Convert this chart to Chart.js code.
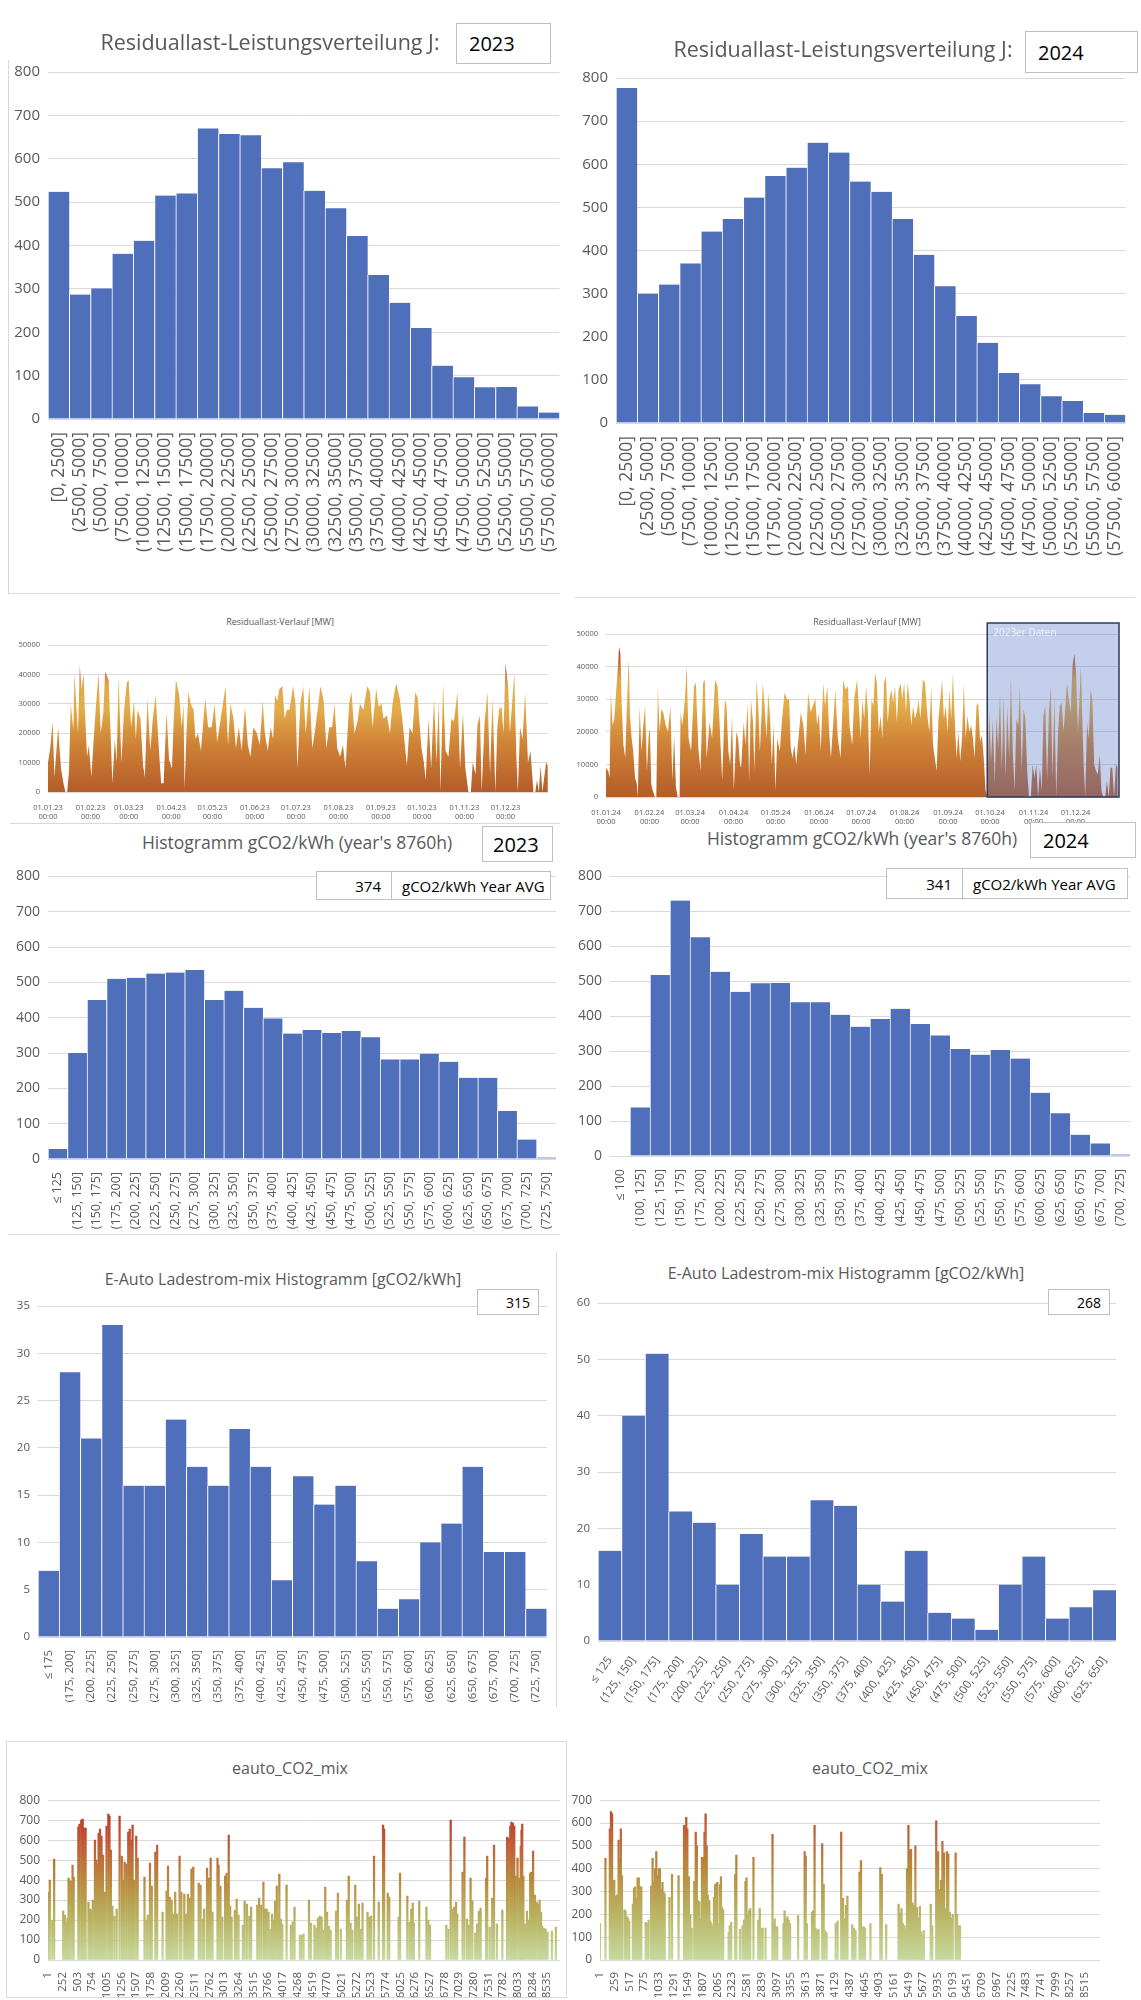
<!DOCTYPE html>
<html>
<head>
<meta charset="utf-8">
<title>Residuallast und CO2</title>
<script src="https://cdn.jsdelivr.net/npm/chart.js@4.4.1/dist/chart.umd.min.js"></script>
<style>
  body { margin: 0; background: #fff; width: 1141px; height: 2000px; position: relative; overflow: hidden;
         font-family: "Open Sans", "Liberation Sans", sans-serif; }
  canvas { position: absolute; }
  .title { position: absolute; color: #595959; white-space: nowrap; transform: translate(-50%, -50%); z-index: 4; }
  .box { position: absolute; border: 1px solid #bfbfbf; background: #fff; color: #000; box-sizing: border-box;
         display: flex; align-items: center; z-index: 5; white-space: nowrap; }
  .cell { height: 100%; display: flex; align-items: center; box-sizing: border-box; }
  .line { position: absolute; background: #d9d9d9; z-index: 1; }
</style>
</head>
<body>

<div class="title" style="left:270px;top:41px;font-size:21.5px">Residuallast-Leistungsverteilung J:</div>
<div class="box" style="left:456px;top:23px;width:95px;height:41px;font-size:20px;padding-left:12px">2023</div>
<div class="title" style="left:843px;top:48px;font-size:21.5px">Residuallast-Leistungsverteilung J:</div>
<div class="box" style="left:1025px;top:31px;width:113px;height:42px;font-size:20px;padding-left:12px">2024</div>

<div class="title" style="left:280px;top:621px;font-size:9px">Residuallast-Verlauf [MW]</div>
<div class="title" style="left:867px;top:621px;font-size:9px">Residuallast-Verlauf [MW]</div>

<div class="title" style="left:297px;top:842px;font-size:17.5px">Histogramm gCO2/kWh (year's 8760h)</div>
<div class="box" style="left:482px;top:826px;width:71px;height:36px;font-size:20px;padding-left:10px">2023</div>
<div class="box" style="left:316px;top:871px;width:235px;height:29px;font-size:15px">
  <div class="cell" style="width:75px;justify-content:flex-end;padding-right:10px;border-right:1px solid #bfbfbf">374</div>
  <div class="cell" style="padding-left:10px">gCO2/kWh Year AVG</div>
</div>
<div class="title" style="left:862px;top:838px;font-size:17.5px">Histogramm gCO2/kWh (year's 8760h)</div>
<div class="box" style="left:1030px;top:822px;width:106px;height:36px;font-size:20px;padding-left:12px">2024</div>
<div class="box" style="left:886px;top:868px;width:242px;height:31px;font-size:15px">
  <div class="cell" style="width:76px;justify-content:flex-end;padding-right:10px;border-right:1px solid #bfbfbf">341</div>
  <div class="cell" style="padding-left:10px">gCO2/kWh Year AVG</div>
</div>

<div class="title" style="left:283px;top:1279px;font-size:16px">E-Auto Ladestrom-mix Histogramm [gCO2/kWh]</div>
<div class="box" style="left:477px;top:1289px;width:62px;height:26px;font-size:14px;justify-content:flex-end;padding-right:8px">315</div>
<div class="title" style="left:846px;top:1273px;font-size:16px">E-Auto Ladestrom-mix Histogramm [gCO2/kWh]</div>
<div class="box" style="left:1048px;top:1289px;width:62px;height:26px;font-size:14px;justify-content:flex-end;padding-right:8px">268</div>

<div class="title" style="left:290px;top:1768px;font-size:16px">eauto_CO2_mix</div>
<div class="title" style="left:870px;top:1768px;font-size:16px">eauto_CO2_mix</div>

<div class="line" style="left:8px;top:60px;width:1px;height:533px"></div>
<div class="line" style="left:8px;top:593px;width:552px;height:1px"></div>
<div class="line" style="left:575px;top:597px;width:560px;height:1px"></div>
<div class="line" style="left:10px;top:823px;width:550px;height:1px"></div>
<div class="line" style="left:1050px;top:843px;width:78px;height:1px"></div>
<div class="line" style="left:8px;top:1234px;width:552px;height:1px"></div>
<div class="line" style="left:556px;top:1252px;width:1px;height:455px"></div>
<div class="line" style="left:6px;top:1741px;width:561px;height:1px"></div>
<div class="line" style="left:6px;top:1741px;width:1px;height:257px"></div>
<div class="line" style="left:566px;top:1741px;width:1px;height:257px"></div>
<div class="line" style="left:6px;top:1997px;width:561px;height:1px"></div>

<script>
// ---------- data ----------
const resBins = ["[0, 2500]", "(2500, 5000]", "(5000, 7500]", "(7500, 10000]", "(10000, 12500]", "(12500, 15000]",
  "(15000, 17500]", "(17500, 20000]", "(20000, 22500]", "(22500, 25000]", "(25000, 27500]", "(27500, 30000]",
  "(30000, 32500]", "(32500, 35000]", "(35000, 37500]", "(37500, 40000]", "(40000, 42500]", "(42500, 45000]",
  "(45000, 47500]", "(47500, 50000]", "(50000, 52500]", "(52500, 55000]", "(55000, 57500]", "(57500, 60000]"];
const res2023 = [524, 287, 301, 381, 411, 515, 520, 670, 657, 654, 578, 592, 526, 486, 422, 332, 268, 210, 123, 96, 73, 74, 29, 15];
const res2024 = [777, 300, 321, 370, 444, 473, 523, 573, 592, 650, 627, 560, 536, 473, 390, 317, 248, 186, 116, 90, 62, 51, 23, 19];

const monthDays23 = [0, 31, 59, 90, 120, 151, 181, 212, 243, 273, 304, 334];
const monthLabels23 = ["01.01.23", "01.02.23", "01.03.23", "01.04.23", "01.05.23", "01.06.23", "01.07.23", "01.08.23", "01.09.23", "01.10.23", "01.11.23", "01.12.23"];
const monthDays24 = [0, 31, 60, 91, 121, 152, 182, 213, 244, 274, 305, 335];
const monthLabels24 = ["01.01.24", "01.02.24", "01.03.24", "01.04.24", "01.05.24", "01.06.24", "01.07.24", "01.08.24", "01.09.24", "01.10.24", "01.11.24", "01.12.24"];

const v23Day = [0, 1.6, 3.4, 4.7, 7.4, 9.5, 11.3, 12.7, 14.0, 15.3, 16.6, 18.5, 19.3, 20.6, 21.9, 23.2, 24.5, 25.9, 27.2, 28.5,
  29.8, 31.7, 33.2, 35.1, 36.9, 38.5, 40.4, 41.7, 44.3, 47.0, 48.8, 50.1, 51.5, 53.6, 55.4, 57.5, 58.8, 60.7, 62.8, 64.1,
  65.4, 67.5, 69.4, 70.7, 72.6, 74.7, 76.5, 78.6, 81.3, 82.6, 84.4, 86.5, 88.4, 90.5, 91.8, 93.4, 95.8, 97.6, 98.9, 99.7,
  101.1, 102.4, 104.2, 106.3, 107.7, 109.5, 111.6, 114.8, 116.9, 119.5, 121.6, 123.5, 126.1, 129.6, 131.4, 133.2, 135.4, 137.2, 139.3, 141.4,
  143.8, 145.9, 147.8, 149.9, 152.5, 154.6, 156.7, 158.3, 160.4, 162.5, 164.4, 165.7, 167.5, 168.9, 171.0, 172.8, 174.4, 176.3, 178.9, 180.7,
  182.1, 184.2, 186.3, 188.1, 190.8, 192.9, 194.7, 198.9, 201.3, 203.2, 205.3, 207.4, 209.2, 211.1, 213.2, 215.3, 217.2, 219.8, 221.6, 223.7,
  225.9, 227.7, 230.3, 233.0, 235.1, 236.9, 239.6, 241.4, 243.5, 244.9, 247.5, 249.6, 251.5, 254.1, 256.7, 258.6, 260.7, 262.0, 263.9, 266.0,
  268.1, 269.9, 272.6, 274.4, 275.7, 277.8, 279.7, 281.8, 283.6, 285.2, 286.5, 288.4, 290.2, 292.3, 294.5, 296.3, 298.9, 300.8, 302.9, 304.7,
  306.9, 308.7, 310.0, 312.1, 313.5, 315.3, 316.6, 318.7, 320.8, 322.7, 324.5, 326.6, 328.0, 329.3, 331.1, 332.5, 334.0, 335.9, 337.2, 339.1,
  340.4, 341.9, 343.0, 344.6, 346.4, 348.3, 350.4, 352.2, 354.4, 355.7, 357.0, 358.3, 359.6, 360.9, 363.6, 364.9];
const v23MW = [10000, 15000, 24000, 5000, 22000, 8000, 3000, 0, 0, 7000, 30000, 21000, 40000, 30000, 20000, 43000, 35000, 40000, 25000, 12000,
  16000, 5000, 17000, 30000, 40000, 20000, 27000, 41000, 38000, 3000, 18000, 10000, 39000, 10000, 27000, 37000, 38000, 22000, 31000, 18000,
  28000, 25000, 9000, 5000, 32000, 14000, 25000, 33000, 12000, 3000, 3000, 27000, 11000, 8000, 25000, 38000, 33000, 22000, 30000, 1000,
  20000, 34000, 30000, 28000, 18000, 20000, 14000, 32000, 22000, 22000, 30000, 17000, 25000, 36000, 16000, 30000, 25000, 15000, 22000, 14000,
  29000, 16000, 12000, 22000, 20000, 16000, 31000, 20000, 14000, 22000, 18000, 33000, 31000, 35000, 36000, 25000, 28000, 28000, 36000, 30000,
  8000, 30000, 36000, 20000, 36000, 15000, 20000, 36000, 31000, 15000, 22000, 22000, 30000, 15000, 12000, 16000, 8000, 30000, 34000, 20000,
  24000, 30000, 28000, 36000, 34000, 22000, 35000, 29000, 30000, 25000, 26000, 20000, 30000, 37000, 32000, 25000, 15000, 9000, 22000, 20000,
  34000, 32000, 15000, 10000, 4000, 25000, 8000, 32000, 10000, 31000, 0, 37000, 14000, 12000, 25000, 24000, 34000, 8000, 27000, 8000,
  0, 0, 10000, 6000, 23000, 26000, 0, 24000, 34000, 6000, 32000, 0, 22000, 28000, 29000, 20000, 44000, 36000, 20000, 32000,
  40000, 12000, 0, 22000, 18000, 34000, 10000, 14000, 0, 0, 4000, 0, 9000, 0, 10000, 9000];

const v24Day = [0, 1.6, 2.6, 3.4, 4.7, 5.9, 7.2, 8.5, 9.3, 10.3, 11.1, 12.4, 13.7, 15.0, 16.3, 17.1, 18.3, 19.4, 20.7, 22.0,
  22.7, 24.0, 25.3, 26.6, 27.9, 29.2, 30.5, 31.3, 32.3, 33.3, 34.9, 35.9, 37.0, 38.2, 39.5, 40.8, 42.6, 44.2, 46.0, 47.3,
  48.6, 49.9, 51.2, 52.5, 53.2, 54.5, 56.3, 57.6, 58.9, 60.7, 62.8, 64.1, 65.9, 67.4, 69.3, 70.5, 71.8, 73.9, 75.7, 77.8,
  79.6, 80.9, 82.9, 84.8, 86.0, 87.3, 88.6, 89.9, 91.2, 93.0, 94.3, 95.6, 96.4, 98.2, 99.5, 101.0, 102.1, 103.4, 104.9, 105.9,
  107.5, 108.8, 109.8, 111.9, 113.2, 114.5, 115.8, 117.1, 118.3, 119.6, 120.9, 122.2, 124.0, 125.6, 127.4, 129.2, 130.7, 131.8, 133.1, 134.4,
  135.7, 137.7, 139.0, 140.8, 142.4, 144.2, 146.0, 147.5, 149.4, 150.6, 151.9, 153.2, 155.0, 156.3, 157.9, 159.2, 160.5, 162.3, 163.6, 165.4,
  167.4, 169.3, 170.8, 172.6, 173.9, 175.7, 177.0, 179.1, 180.4, 181.7, 182.9, 184.2, 185.5, 186.8, 188.1, 189.4, 190.7, 192.0, 193.3, 194.6,
  195.9, 197.2, 198.4, 199.7, 201.0, 202.3, 203.6, 204.9, 206.2, 207.5, 208.8, 210.1, 211.4, 212.7, 214.0, 215.2, 216.5, 217.8, 219.1, 220.4,
  221.7, 223.0, 224.3, 226.1, 227.6, 229.5, 230.7, 232.0, 233.3, 234.6, 235.9, 237.2, 238.5, 239.8, 241.1, 242.4, 243.7, 245.0, 246.3, 247.5,
  248.8, 250.1, 251.4, 252.7, 254.0, 255.3, 256.6, 257.9, 259.2, 260.5, 261.8, 263.0, 264.3, 265.6, 266.9, 268.2, 269.5, 270.8, 272.1, 273.4,
  274.7, 276.0, 277.3, 278.6, 279.8, 281.1, 282.4, 283.7, 285.0, 286.3, 287.6, 288.9, 290.2, 291.5, 292.8, 294.1, 295.3, 296.6, 297.9, 299.2,
  300.5, 301.8, 303.1, 304.4, 305.7, 307.0, 308.3, 309.6, 310.9, 312.1, 313.4, 314.7, 316.0, 317.3, 318.6, 319.9, 321.2, 322.5, 323.8, 325.1,
  326.4, 327.6, 328.9, 330.2, 331.5, 332.8, 334.1, 335.4, 336.7, 338.0, 338.8, 339.8, 340.8, 341.9, 343.2, 344.4, 345.7, 347.0, 348.3, 349.6,
  350.9, 352.2, 353.5, 354.8, 356.1, 357.4, 358.7, 359.9, 361.2, 362.5, 363.8, 365.1];
const v24MW = [9000, 8000, 6000, 32000, 22000, 24000, 32000, 40000, 46000, 44000, 30000, 16000, 12000, 29000, 42000, 25000, 18000, 14000, 6000, 4000,
  0, 28000, 14000, 22000, 28000, 8000, 19000, 21000, 4000, 2000, 0, 0, 34000, 20000, 27000, 26000, 22000, 20000, 28000, 5000,
  19000, 3000, 0, 0, 26000, 22000, 30000, 40000, 18000, 14000, 34000, 35000, 15000, 8000, 35000, 36000, 12000, 23000, 18000, 36000,
  34000, 24000, 5000, 30000, 28000, 14000, 10000, 25000, 2000, 20000, 18000, 10000, 9000, 23000, 16000, 29000, 5000, 30000, 23000, 8000,
  36000, 26000, 14000, 35000, 28000, 18000, 32000, 24000, 10000, 22000, 2000, 18000, 14000, 24000, 32000, 30000, 30000, 15000, 12000, 16000,
  10000, 20000, 26000, 22000, 13000, 32000, 26000, 28000, 30000, 22000, 26000, 14000, 35000, 28000, 34000, 20000, 12000, 24000, 33000, 18000,
  12000, 36000, 33000, 34000, 21000, 16000, 30000, 36000, 28000, 18000, 30000, 24000, 34000, 27000, 7000, 30000, 28000, 38000, 35000, 20000,
  25000, 18000, 35000, 37000, 23000, 30000, 33000, 29000, 34000, 23000, 33000, 35000, 30000, 35000, 26000, 35000, 30000, 22000, 28000, 24000,
  26000, 30000, 24000, 36000, 35000, 24000, 20000, 34000, 16000, 12000, 8000, 24000, 30000, 36000, 24000, 28000, 20000, 33000, 24000, 38000,
  24000, 12000, 20000, 11000, 18000, 35000, 18000, 25000, 20000, 22000, 18000, 12000, 28000, 29000, 17000, 19000, 12000, 2000, 0, 27000,
  11000, 24000, 4000, 25000, 15000, 32000, 8000, 31000, 6000, 28000, 12000, 37000, 14000, 2000, 24000, 22000, 34000, 8000, 27000, 24000,
  8000, 0, 0, 10000, 6000, 10000, 0, 9000, 2000, 25000, 28000, 5000, 26000, 34000, 6000, 31000, 0, 20000, 28000, 29000,
  20000, 27000, 35000, 30000, 26000, 40000, 44000, 38000, 20000, 32000, 40000, 24000, 10000, 0, 23000, 18000, 33000, 30000, 10000, 8000,
  7000, 13000, 2000, 0, 0, 5000, 0, 9000, 9000, 0, 10000, 9000];
const box2023From = 272;

const co2Bins23 = ["≤ 125", "(125, 150]", "(150, 175]", "(175, 200]", "(200, 225]", "(225, 250]", "(250, 275]", "(275, 300]",
  "(300, 325]", "(325, 350]", "(350, 375]", "(375, 400]", "(400, 425]", "(425, 450]", "(450, 475]", "(475, 500]", "(500, 525]",
  "(525, 550]", "(550, 575]", "(575, 600]", "(600, 625]", "(625, 650]", "(650, 675]", "(675, 700]", "(700, 725]", "(725, 750]"];
const co2Hist23 = [28, 300, 450, 510, 513, 525, 528, 535, 450, 476, 428, 398, 355, 365, 357, 362, 345, 282, 282, 298, 275, 230, 230, 136, 55, 4];
const co2Bins24 = ["≤ 100", "(100, 125]", "(125, 150]", "(150, 175]", "(175, 200]", "(200, 225]", "(225, 250]", "(250, 275]",
  "(275, 300]", "(300, 325]", "(325, 350]", "(350, 375]", "(375, 400]", "(400, 425]", "(425, 450]", "(450, 475]", "(475, 500]",
  "(500, 525]", "(525, 550]", "(550, 575]", "(575, 600]", "(600, 625]", "(625, 650]", "(650, 675]", "(675, 700]", "(700, 725]"];
const co2Hist24 = [0, 139, 518, 731, 626, 527, 470, 494, 495, 440, 440, 404, 370, 392, 421, 378, 345, 306, 290, 303, 279, 181, 122, 61, 36, 4];

const evBins23 = ["≤ 175", "(175, 200]", "(200, 225]", "(225, 250]", "(250, 275]", "(275, 300]", "(300, 325]", "(325, 350]",
  "(350, 375]", "(375, 400]", "(400, 425]", "(425, 450]", "(450, 475]", "(475, 500]", "(500, 525]", "(525, 550]", "(550, 575]",
  "(575, 600]", "(600, 625]", "(625, 650]", "(650, 675]", "(675, 700]", "(700, 725]", "(725, 750]"];
const evHist23 = [7, 28, 21, 33, 16, 16, 23, 18, 16, 22, 18, 6, 17, 14, 16, 8, 3, 4, 10, 12, 18, 9, 9, 3];
const evBins24 = ["≤ 125", "(125, 150]", "(150, 175]", "(175, 200]", "(200, 225]", "(225, 250]", "(250, 275]", "(275, 300]",
  "(300, 325]", "(325, 350]", "(350, 375]", "(375, 400]", "(400, 425]", "(425, 450]", "(450, 475]", "(475, 500]", "(500, 525]",
  "(525, 550]", "(550, 575]", "(575, 600]", "(600, 625]", "(625, 650]"];
const evHist24 = [16, 40, 51, 23, 21, 10, 19, 15, 15, 25, 24, 10, 7, 16, 5, 4, 2, 10, 15, 4, 6, 9];

const eTicks23 = [1, 252, 503, 754, 1005, 1256, 1507, 1758, 2009, 2260, 2511, 2762, 3013, 3264, 3515, 3766, 4017, 4268,
  4519, 4770, 5021, 5272, 5523, 5774, 6025, 6276, 6527, 6778, 7029, 7280, 7531, 7782, 8033, 8284, 8535];
const eTicks24 = [1, 259, 517, 775, 1033, 1291, 1549, 1807, 2065, 2323, 2581, 2839, 3097, 3355, 3613, 3871, 4129, 4387,
  4645, 4903, 5161, 5419, 5677, 5935, 6193, 6451, 6709, 6967, 7225, 7483, 7741, 7999, 8257, 8515];

const e23Hour = [20, 32, 75, 106, 261, 291, 310, 335, 353, 372, 403, 421, 440, 520, 539, 570, 594, 619, 644, 693, 718, 743, 767,
  804, 829, 848, 866, 891, 916, 940, 971, 1002, 1033, 1052, 1076, 1101, 1138, 1175, 1225, 1262, 1286, 1311, 1342, 1373, 1398,
  1422, 1447, 1472, 1509, 1534, 1651, 1682, 1707, 1744, 1775, 1836, 1867, 1960, 2028, 2053, 2084, 2115, 2139, 2176, 2207,
  2251, 2281, 2331, 2362, 2393, 2424, 2454, 2485, 2578, 2609, 2646, 2671, 2720, 2751, 2782, 2813, 2899, 2918, 2949, 2980,
  3029, 3054, 3072, 3091, 3116, 3140, 3196, 3227, 3258, 3332, 3363, 3400, 3443, 3474, 3579, 3610, 3647, 3684, 3709, 3740,
  3771, 3802, 3833, 3857, 3882, 3913, 3944, 3956, 3981, 4006, 4080, 4154, 4185, 4216, 4308, 4339, 4370, 4463, 4494, 4556,
  4587, 4617, 4648, 4679, 4710, 4741, 4772, 4803, 4834, 4926, 4957, 5007, 5112, 5143, 5174, 5205, 5254, 5279, 5316, 5347,
  5378, 5464, 5495, 5526, 5575, 5656, 5730, 5748, 5810, 5835, 5996, 6020, 6144, 6181, 6212, 6237, 6255, 6348, 6471, 6502,
  6533, 6811, 6848, 6886, 6916, 6947, 6978, 6997, 7089, 7120, 7164, 7195, 7226, 7256, 7306, 7337, 7368, 7398, 7491, 7510,
  7553, 7596, 7627, 7677, 7769, 7850, 7874, 7905, 7924, 7948, 7973, 7998, 8029, 8060, 8084, 8097, 8109, 8128, 8159, 8190,
  8220, 8245, 8264, 8295, 8326, 8356, 8387, 8406, 8431, 8449, 8480, 8511, 8542, 8616, 8684];
const e23Val = [340, 400, 200, 505, 245, 225, 190, 210, 410, 395, 395, 475, 415, 665, 680, 700, 705, 660, 660, 290, 255, 250, 300,
  600, 500, 480, 635, 655, 620, 525, 340, 670, 730, 720, 550, 270, 220, 255, 720, 520, 400, 490, 480, 640, 655,
  600, 675, 400, 620, 510, 415, 200, 225, 485, 370, 540, 575, 240, 345, 470, 315, 300, 230, 340, 230,
  520, 340, 330, 230, 330, 310, 455, 465, 385, 375, 205, 255, 460, 410, 510, 240, 510, 475, 370, 215,
  420, 435, 380, 625, 270, 215, 250, 305, 225, 175, 295, 280, 220, 265, 275, 310, 275, 390, 255, 255,
  240, 155, 230, 200, 295, 370, 230, 430, 205, 180, 375, 175, 190, 265, 125, 125, 130, 300, 185, 175,
  160, 210, 220, 215, 150, 365, 240, 170, 150, 245, 335, 155, 300, 420, 185, 150, 375, 215, 280, 155,
  285, 240, 215, 220, 520, 290, 675, 655, 335, 315, 215, 435, 320, 190, 255, 285, 185, 295, 265, 200,
  175, 175, 155, 700, 255, 265, 290, 230, 440, 615, 205, 175, 410, 295, 135, 180, 245, 260, 410, 520,
  165, 310, 575, 180, 250, 615, 610, 670, 690, 685, 670, 420, 510, 410, 570, 650, 680, 420, 180, 245,
  200, 435, 440, 545, 325, 290, 280, 300, 240, 170, 160, 155, 140, 145, 165];

const e24Hour = [1, 97, 174, 194, 213, 226, 251, 277, 303, 328, 348, 367, 386, 431, 450, 470, 495, 515, 579, 598, 617, 637, 662,
  682, 707, 726, 804, 823, 855, 900, 925, 945, 970, 990, 1009, 1035, 1054, 1073, 1099, 1118, 1137, 1221, 1266, 1381, 1478,
  1497, 1516, 1535, 1561, 1587, 1612, 1657, 1683, 1702, 1722, 1747, 1767, 1792, 1818, 1837, 1856, 1876, 1895, 1921, 1940,
  1959, 1978, 2004, 2023, 2043, 2062, 2088, 2107, 2126, 2145, 2165, 2261, 2280, 2306, 2376, 2396, 2460, 2505, 2530, 2556,
  2575, 2595, 2620, 2640, 2697, 2781, 2807, 2832, 2858, 2909, 3031, 3051, 3070, 3095, 3115, 3224, 3243, 3269, 3294, 3314,
  3339, 3481, 3596, 3615, 3635, 3725, 3744, 3770, 3789, 3814, 3840, 3904, 3930, 3949, 3981, 4142, 4174, 4238, 4270, 4296,
  4322, 4347, 4431, 4463, 4489, 4559, 4585, 4611, 4636, 4656, 4752, 4925, 4951, 5028, 5246, 5272, 5298, 5323, 5349, 5375,
  5394, 5419, 5439, 5464, 5490, 5516, 5541, 5567, 5593, 5619, 5644, 5670, 5689, 5811, 5837, 5907, 5940, 5965, 5991, 6016,
  6042, 6068, 6094, 6119, 6145, 6171, 6196, 6248, 6273, 6299, 6325];
const e24Val = [160, 445, 575, 650, 640, 345, 350, 280, 285, 525, 445, 575, 370, 220, 215, 190, 185, 170, 245, 315, 320, 270, 360,
  360, 320, 320, 165, 160, 175, 325, 445, 340, 400, 475, 370, 400, 400, 310, 340, 300, 290, 275, 375, 370, 590,
  580, 625, 575, 365, 200, 140, 345, 560, 500, 260, 255, 180, 450, 450, 560, 640, 500, 285, 260, 170,
  160, 145, 275, 330, 335, 340, 160, 330, 365, 230, 220, 120, 150, 165, 375, 460, 135, 150, 175, 345,
  360, 200, 215, 225, 450, 175, 225, 140, 140, 140, 550, 160, 180, 145, 145, 160, 215, 180, 190, 175,
  160, 195, 475, 455, 160, 210, 215, 590, 140, 130, 135, 510, 330, 130, 120, 160, 170, 560, 270, 180,
  240, 280, 155, 140, 130, 385, 435, 145, 145, 140, 160, 405, 375, 155, 245, 205, 225, 160, 150, 135,
  400, 590, 480, 485, 250, 240, 500, 230, 185, 235, 125, 110, 130, 245, 150, 610, 475, 310, 350, 520,
  470, 225, 475, 465, 210, 185, 200, 470, 200, 150, 150];

// ---------- helpers ----------
const FONT = "'Open Sans', 'Liberation Sans', sans-serif";
const GRID = "#d9d9d9";
const TICK = "#595959";
const BAR = "#4f6fba";

function mount(f) {
  const cv = document.createElement("canvas");
  cv.width = f.w; cv.height = f.h;
  cv.style.left = f.l + "px"; cv.style.top = f.t + "px";
  cv.style.zIndex = 2;
  document.body.appendChild(cv);
  return cv;
}

// frame f = canvas box, p = wanted plot rectangle, both in page pixels
function fit(f, p) {
  return { top: p.t - f.t, right: f.l + f.w - p.r, yw: p.l - f.l, xh: f.t + f.h - p.b };
}

function yAxis(max, step, size, yw) {
  return {
    min: 0, max: max,
    ticks: { stepSize: step, color: TICK, font: { family: FONT, size: size }, padding: 8, callback: v => String(v) },
    grid: { color: GRID, drawTicks: false },
    border: { display: false },
    afterFit: s => { s.width = yw; }
  };
}

const base = (L) => ({
  responsive: false, animation: false,
  layout: { padding: { top: L.top, right: L.right, left: 0, bottom: 0 } },
  plugins: { legend: { display: false }, tooltip: { enabled: false } }
});

function histogram(f, p, labels, values, yMax, yStep, ySize, xSize, rot) {
  const L = fit(f, p);
  new Chart(mount(f), {
    type: "bar",
    data: { labels: labels, datasets: [{
      data: values, backgroundColor: BAR, borderColor: "#ffffff",
      borderWidth: { left: 1, right: 0, top: 0, bottom: 0 }, borderSkipped: false,
      barPercentage: 1, categoryPercentage: 1
    }] },
    options: Object.assign(base(L), {
      scales: {
        x: {
          ticks: { color: TICK, font: { family: FONT, size: xSize }, minRotation: rot, maxRotation: rot, autoSkip: false, padding: 5 },
          grid: { display: false }, border: { display: false },
          afterFit: s => { s.height = L.xh; }
        },
        y: yAxis(yMax, yStep, ySize, L.yw)
      }
    })
  });
}

function loadFill(c) {
  const chart = c.chart;
  if (!chart.chartArea) return "#d9923c";
  const y = chart.scales.y;
  const g = chart.ctx.createLinearGradient(0, y.getPixelForValue(0), 0, y.getPixelForValue(46000));
  g.addColorStop(0, "#b45c2a");
  g.addColorStop(0.35, "#cf8236");
  g.addColorStop(0.62, "#e3ad4a");
  g.addColorStop(0.78, "#e2a84a");
  g.addColorStop(0.9, "#cd6a37");
  g.addColorStop(1, "#b8382a");
  return g;
}

function verlauf(f, p, days, mw, xMax, tickDays, tickLabels, extra) {
  const L = fit(f, p);
  new Chart(mount(f), {
    type: "line",
    data: { datasets: [{
      data: days.map((d, i) => ({ x: d, y: mw[i] })),
      fill: "origin", backgroundColor: loadFill, borderWidth: 0, pointRadius: 0, tension: 0
    }] },
    options: Object.assign(base(L), {
      scales: {
        x: {
          type: "linear", min: 0, max: xMax,
          afterBuildTicks: s => { s.ticks = tickDays.map(v => ({ value: v })); },
          ticks: { color: TICK, font: { family: FONT, size: 7.5 }, autoSkip: false, maxRotation: 0, padding: 3,
                   callback: (v, i) => [tickLabels[i], "00:00"] },
          grid: { display: false }, border: { display: false },
          afterFit: s => { s.height = L.xh; }
        },
        y: yAxis(50000, 10000, 7.5, L.yw)
      }
    }),
    plugins: extra ? [extra] : []
  });
}

function mixFill(c) {
  const chart = c.chart;
  if (!chart.chartArea) return "#b7b25c";
  const y = chart.scales.y;
  const g = chart.ctx.createLinearGradient(0, y.getPixelForValue(0), 0, y.getPixelForValue(720));
  g.addColorStop(0, "#c6da9f");
  g.addColorStop(0.3, "#b9b160");
  g.addColorStop(0.55, "#b98a3e");
  g.addColorStop(0.78, "#c0603a");
  g.addColorStop(1, "#c0392b");
  return g;
}

function mixChart(f, p, hours, vals, xMax, yMax, ticks) {
  const L = fit(f, p);
  new Chart(mount(f), {
    type: "bar",
    data: { datasets: [{
      data: hours.map((h, i) => ({ x: h, y: vals[i] })),
      backgroundColor: mixFill, barThickness: 1.6, borderWidth: 0
    }] },
    options: Object.assign(base(L), {
      scales: {
        x: {
          type: "linear", min: 1, max: xMax, offset: false,
          afterBuildTicks: s => { s.ticks = ticks.map(v => ({ value: v })); },
          ticks: { color: TICK, font: { family: FONT, size: 11.5 }, autoSkip: false, minRotation: 90, maxRotation: 90, padding: 4,
                   callback: v => String(v) },
          grid: { display: false }, border: { display: false },
          afterFit: s => { s.height = L.xh; }
        },
        y: yAxis(yMax, 100, 12, L.yw)
      }
    })
  });
}

const boxPlugin = {
  id: "box2023",
  afterDatasetsDraw(chart) {
    const { ctx, chartArea: a, scales: { x } } = chart;
    const x0 = x.getPixelForValue(box2023From);
    const top = a.top - 11;
    ctx.save();
    ctx.fillStyle = "rgba(92, 122, 200, 0.36)";
    ctx.fillRect(x0, top, a.right - x0, a.bottom - top);
    ctx.strokeStyle = "#2b3a5e";
    ctx.lineWidth = 1.5;
    ctx.strokeRect(x0, top, a.right - x0, a.bottom - top);
    ctx.fillStyle = "#eef1f8";
    ctx.font = "10px " + FONT;
    ctx.textBaseline = "top";
    ctx.fillText("2023er Daten", x0 + 6, top + 5);
    ctx.restore();
  }
};

// ---------- charts ----------
histogram({ l: 0, t: 55, w: 575, h: 530 }, { l: 48, t: 70, r: 567, b: 419 }, resBins, res2023, 800, 100, 15, 17.5, 90);
histogram({ l: 575, t: 60, w: 566, h: 530 }, { l: 616, t: 78, r: 1132, b: 423 }, resBins, res2024, 800, 100, 15, 17.5, 90);

verlauf({ l: 0, t: 630, w: 570, h: 190 }, { l: 48, t: 645, r: 548, b: 792 }, v23Day, v23MW, 365, monthDays23, monthLabels23, null);
verlauf({ l: 570, t: 615, w: 571, h: 210 }, { l: 606, t: 634, r: 1119, b: 797 }, v24Day, v24MW, 366, monthDays24, monthLabels24, boxPlugin);

histogram({ l: 0, t: 860, w: 570, h: 370 }, { l: 48, t: 871, r: 556, b: 1159 }, co2Bins23, co2Hist23, 800, 100, 14, 12.5, 90);
histogram({ l: 570, t: 860, w: 571, h: 370 }, { l: 610, t: 871, r: 1130, b: 1156 }, co2Bins24, co2Hist24, 800, 100, 14, 12.5, 90);

histogram({ l: 0, t: 1290, w: 555, h: 420 }, { l: 38, t: 1306, r: 550, b: 1637 }, evBins23, evHist23, 35, 5, 11.5, 11.5, 90);
histogram({ l: 570, t: 1288, w: 571, h: 422 }, { l: 598, t: 1303, r: 1116, b: 1641 }, evBins24, evHist24, 60, 10, 11.5, 11.5, 55);

mixChart({ l: 7, t: 1785, w: 558, h: 212 }, { l: 48, t: 1795, r: 563, b: 1960 }, e23Hour, e23Val, 8760, 800, eTicks23);
mixChart({ l: 570, t: 1785, w: 571, h: 212 }, { l: 600, t: 1795, r: 1100, b: 1960 }, e24Hour, e24Val, 8784, 700, eTicks24);
</script>
</body>
</html>
